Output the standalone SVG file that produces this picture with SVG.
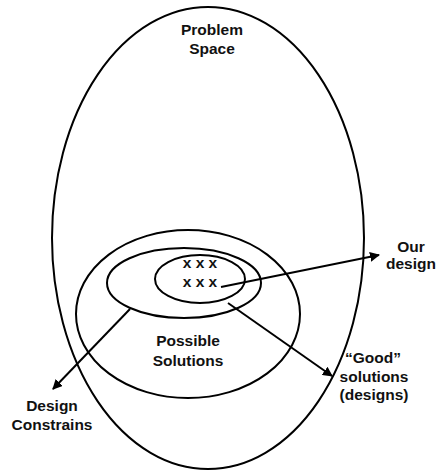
<svg xmlns="http://www.w3.org/2000/svg" width="437" height="471" viewBox="0 0 437 471">
<style>
.sh{fill:none;stroke:#000;stroke-width:2}
.t{font-family:"Liberation Sans",Arial,sans-serif;font-weight:bold;font-size:15.5px;fill:#111;text-anchor:middle}
.c{stroke:#000;stroke-width:2;fill:none;marker-end:url(#ah)}
</style>
<defs>
<marker id="ah" viewBox="0 0 10 10" refX="9" refY="5" markerWidth="5" markerHeight="5" orient="auto" markerUnits="strokeWidth">
<path d="M0,0 L10,5 L0,10 z" fill="#000"/>
</marker>
</defs>
<rect width="437" height="471" fill="#fff"/>
<g id="problem-space">
<ellipse class="sh" cx="208" cy="238" rx="156" ry="231"/>
<text class="t" x="212" y="35">Problem</text>
<text class="t" x="212" y="54">Space</text>
</g>
<g id="possible-solutions">
<ellipse class="sh" cx="188" cy="314" rx="112" ry="84"/>
<text class="t" x="188" y="346">Possible</text>
<text class="t" x="188" y="366">Solutions</text>
</g>
<g id="good-solutions">
<ellipse class="sh" cx="184" cy="283" rx="77" ry="35"/>
</g>
<g id="our-design">
<ellipse class="sh" cx="200" cy="279" rx="45" ry="24"/>
<text class="t" x="200" y="268">x x x</text>
<text class="t" x="200" y="287">x x x</text>
</g>
<g id="connectors">
<line class="c" x1="221" y1="287" x2="379" y2="255"/>
<line class="c" x1="228" y1="303" x2="332" y2="376"/>
<line class="c" x1="130" y1="309" x2="53" y2="389"/>
</g>
<g id="label-our-design">
<text class="t" x="411" y="252">Our</text>
<text class="t" x="411" y="269">design</text>
</g>
<g id="label-good">
<text class="t" x="373" y="363">“Good”</text>
<text class="t" x="374" y="382">solutions</text>
<text class="t" x="374" y="400">(designs)</text>
</g>
<g id="label-constraints">
<text class="t" x="52" y="411">Design</text>
<text class="t" x="52" y="430">Constrains</text>
</g>
</svg>
